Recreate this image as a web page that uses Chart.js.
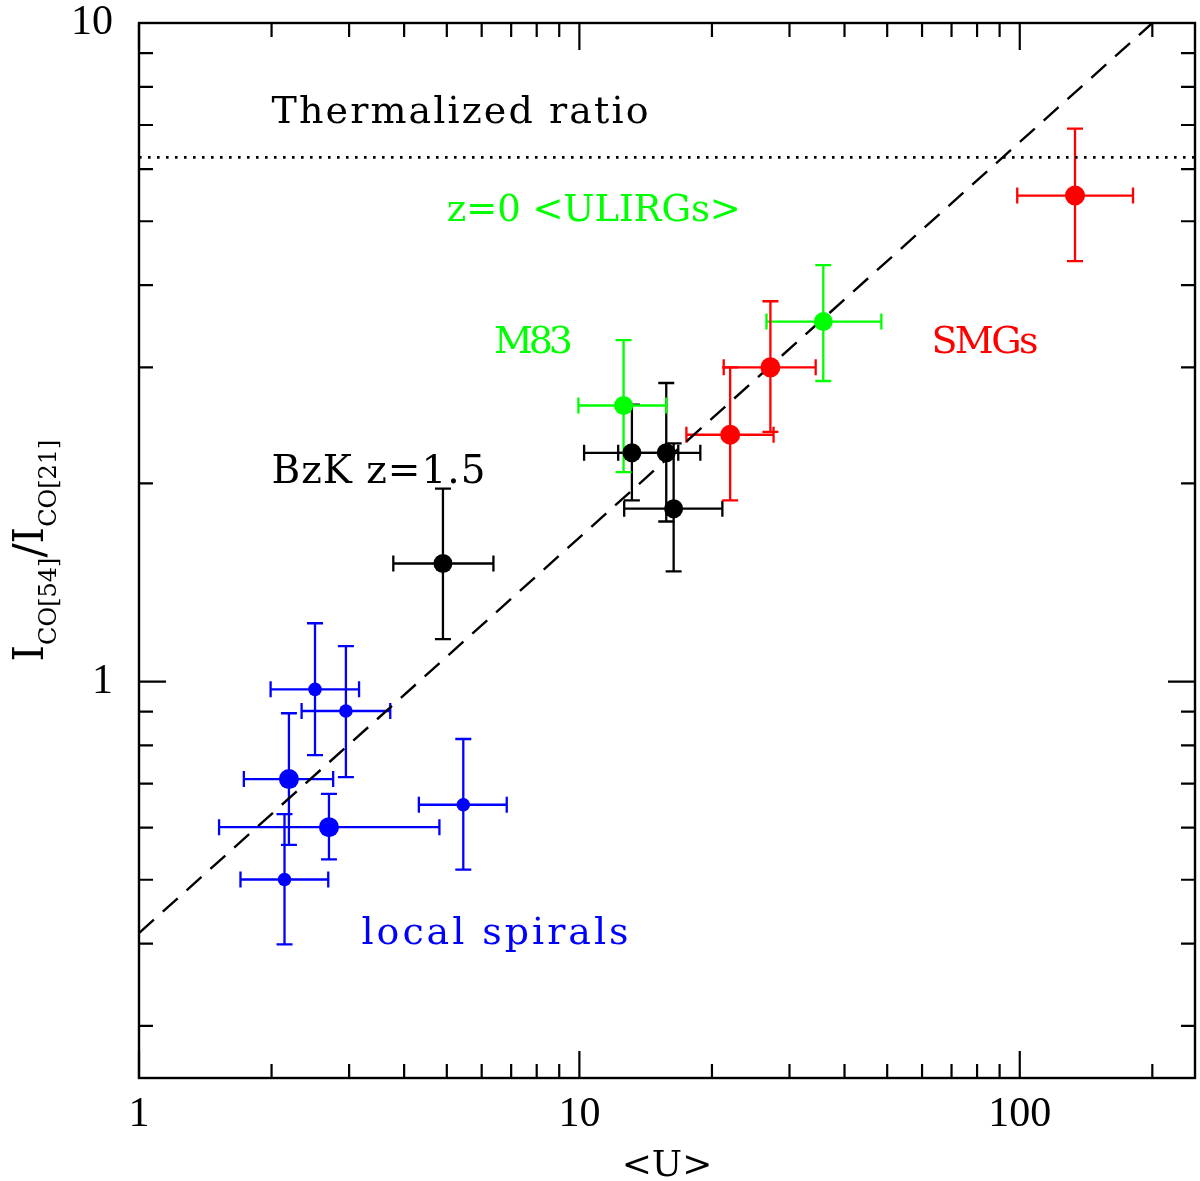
<!DOCTYPE html>
<html>
<head>
<meta charset="utf-8">
<script src="https://cdn.jsdelivr.net/npm/chart.js@4.4.1/dist/chart.umd.min.js"></script>
<style>
html,body{margin:0;padding:0;background:#ffffff;overflow:hidden;}
#wrap{width:1200px;height:1181px;position:relative;}
#c{display:block;}
</style>
</head>
<body>
<div id="wrap"><canvas id="c"></canvas></div>
<script>
// ---------------- data ----------------
// local spirals (blue)
const spiralX   = [2.51, 2.95, 2.19, 2.70, 5.45, 2.14];
const spiralY   = [0.973, 0.902, 0.711, 0.601, 0.650, 0.5005];
const spiralXLo = [1.99, 2.34, 1.73, 1.52, 4.32, 1.70];
const spiralXHi = [3.16, 3.72, 2.76, 4.81, 6.84, 2.69];
const spiralYLo = [0.773, 0.716, 0.565, 0.537, 0.518, 0.399];
const spiralYHi = [1.226, 1.132, 0.895, 0.675, 0.818, 0.629];
const spiralBig = [false, false, true, true, false, false];

// BzK z=1.5 (black)
const bzkX   = [4.90, 13.16, 15.75, 16.37];
const bzkY   = [1.511, 2.225, 2.225, 1.83];
const bzkXLo = [3.78, 10.25, 12.25, 12.64];
const bzkXHi = [6.38, 16.77, 18.82, 21.12];
const bzkYLo = [1.16, 1.884, 1.75, 1.47];
const bzkYHi = [1.963, 2.632, 2.84, 2.30];

// M83 and z=0 <ULIRGs> (green)
const greenX   = [12.6, 35.8];
const greenY   = [2.625, 3.52];
const greenXLo = [9.95, 26.6];
const greenXHi = [15.75, 48.5];
const greenYLo = [2.08, 2.86];
const greenYHi = [3.30, 4.29];

// SMGs (red)
const smgX   = [22.0, 27.15, 133.5];
const smgY   = [2.37, 3.00, 5.47];
const smgXLo = [17.5, 21.27, 98.7];
const smgXHi = [27.6, 34.4, 180.8];
const smgYLo = [1.884, 2.394, 4.35];
const smgYHi = [3.00, 3.78, 6.91];

// thermalized ratio (dotted) and fitted relation (dashed)
const thermX = [1, 250];
const thermY = [6.25, 6.25];
const fitX = [1, 200];
const fitY = [0.415, 10];

// axes
const xRange = [1, 250];
const yRange = [0.25, 10];
const xMajorTicks = [1, 10, 100];
const xMinorTicks = [2,3,4,5,6,7,8,9,20,30,40,50,60,70,80,90,200];
const yMajorTicks = [1, 10];
const yMinorTicks = [0.3,0.4,0.5,0.6,0.7,0.8,0.9,2,3,4,5,6,7,8,9];

// annotation texts and their anchor (data coordinates: left edge, baseline)
const annTexts = ['Thermalized ratio', 'z=0 <ULIRGs>', 'M83', 'SMGs', 'BzK z=1.5', 'local spirals'];
const annX = [2.0, 5.0, 6.4, 63, 2.0, 3.2];
const annY = [7.05, 5.0, 3.15, 3.15, 2.0, 0.40];

// ---------------- styles ----------------
const COL = {blue:'#0000ff', black:'#000000', green:'#00ff00', red:'#ff0000'};
const annStyle = [
  {color:COL.black, size:38, width:377},
  {color:COL.green, size:37, width:294},
  {color:COL.green, size:38, width:79},
  {color:COL.red,   size:38, width:107},
  {color:COL.black, size:39, width:214},
  {color:COL.blue,  size:38, width:267}
];
const SERIF = '"DejaVu Serif", "Liberation Serif", serif';
const TICKFONT = '"Liberation Serif", "DejaVu Serif", serif';

function pts(xs, ys){ return xs.map((v,i)=>({x:v, y:ys[i]})); }

const datasets = [
  {label:'local spirals', data:pts(spiralX, spiralY), backgroundColor:COL.blue, borderColor:COL.blue,
   pointRadius: spiralBig.map(b=> b ? 10 : 6.8), pointBorderWidth:0,
   err:{xLo:spiralXLo, xHi:spiralXHi, yLo:spiralYLo, yHi:spiralYHi}},
  {label:'BzK z=1.5', data:pts(bzkX, bzkY), backgroundColor:COL.black, borderColor:COL.black,
   pointRadius:9.5, pointBorderWidth:0,
   err:{xLo:bzkXLo, xHi:bzkXHi, yLo:bzkYLo, yHi:bzkYHi}},
  {label:'ULIRGs / M83', data:pts(greenX, greenY), backgroundColor:COL.green, borderColor:COL.green,
   pointRadius:9.5, pointBorderWidth:0,
   err:{xLo:greenXLo, xHi:greenXHi, yLo:greenYLo, yHi:greenYHi}},
  {label:'SMGs', data:pts(smgX, smgY), backgroundColor:COL.red, borderColor:COL.red,
   pointRadius:10, pointBorderWidth:0,
   err:{xLo:smgXLo, xHi:smgXHi, yLo:smgYLo, yHi:smgYHi}},
  {label:'Thermalized ratio', data:pts(thermX, thermY), showLine:true, pointRadius:0,
   borderColor:'#000', borderWidth:2.6, borderDash:[2.6,6.4], fill:false},
  {label:'fit', data:pts(fitX, fitY), showLine:true, pointRadius:0,
   borderColor:'#000', borderWidth:2.4, borderDash:[20,12], fill:false}
];

const errorBars = {
  id:'errorBars',
  beforeDatasetsDraw(chart){
    const ctx = chart.ctx, xs = chart.scales.x, ys = chart.scales.y, a = chart.chartArea;
    const cap = 8;
    ctx.save();
    ctx.beginPath(); ctx.rect(a.left, a.top, a.right-a.left, a.bottom-a.top); ctx.clip();
    chart.data.datasets.forEach(ds=>{
      if(!ds.err) return;
      ctx.strokeStyle = ds.borderColor; ctx.lineWidth = 2.3; ctx.lineCap='butt';
      ds.data.forEach((p,i)=>{
        const px = xs.getPixelForValue(p.x), py = ys.getPixelForValue(p.y);
        const x0 = xs.getPixelForValue(ds.err.xLo[i]), x1 = xs.getPixelForValue(ds.err.xHi[i]);
        const y0 = ys.getPixelForValue(ds.err.yLo[i]), y1 = ys.getPixelForValue(ds.err.yHi[i]);
        ctx.beginPath();
        ctx.moveTo(x0, py); ctx.lineTo(x1, py);
        ctx.moveTo(x0, py-cap); ctx.lineTo(x0, py+cap);
        ctx.moveTo(x1, py-cap); ctx.lineTo(x1, py+cap);
        ctx.moveTo(px, y0); ctx.lineTo(px, y1);
        ctx.moveTo(px-cap, y0); ctx.lineTo(px+cap, y0);
        ctx.moveTo(px-cap, y1); ctx.lineTo(px+cap, y1);
        ctx.stroke();
      });
    });
    ctx.restore();
  }
};

const frameAndText = {
  id:'frameAndText',
  afterDraw(chart){
    const ctx = chart.ctx, xs = chart.scales.x, ys = chart.scales.y, a = chart.chartArea;
    ctx.save();
    // frame
    ctx.strokeStyle = '#000'; ctx.lineWidth = 2.4;
    ctx.strokeRect(a.left, a.top, a.right-a.left, a.bottom-a.top);
    ctx.lineWidth = 2.2;
    const MAJ = 27, MIN = 14;
    ctx.beginPath();
    const xt = (v,L)=>{ const p = xs.getPixelForValue(v);
      ctx.moveTo(p, a.bottom); ctx.lineTo(p, a.bottom-L);
      ctx.moveTo(p, a.top); ctx.lineTo(p, a.top+L); };
    const yt = (v,L)=>{ const p = ys.getPixelForValue(v);
      ctx.moveTo(a.left, p); ctx.lineTo(a.left+L, p);
      ctx.moveTo(a.right, p); ctx.lineTo(a.right-L, p); };
    xMajorTicks.forEach(v=>xt(v,MAJ)); xMinorTicks.forEach(v=>xt(v,MIN));
    yMajorTicks.forEach(v=>yt(v,MAJ)); yMinorTicks.forEach(v=>yt(v,MIN));
    ctx.stroke();

    // annotations
    ctx.textAlign = 'left'; ctx.textBaseline = 'alphabetic';
    annTexts.forEach((t,i)=>{
      const st = annStyle[i];
      ctx.font = st.size + 'px ' + SERIF;
      ctx.letterSpacing = '0px';
      const w0 = ctx.measureText(t).width;
      const sp = (st.width - w0) / (t.length - 1);
      ctx.letterSpacing = sp.toFixed(2) + 'px';
      ctx.fillStyle = st.color;
      ctx.fillText(t, xs.getPixelForValue(annX[i]), ys.getPixelForValue(annY[i]));
    });
    ctx.letterSpacing = '0px';

    // x title
    ctx.fillStyle = '#000';
    ctx.font = '36px ' + SERIF;
    ctx.textAlign = 'center';
    ctx.fillText('<U>', (a.left+a.right)/2, 1176);

    // y title with subscripts
    const parts = [
      {t:'I', f:'42px ' + SERIF, dy:0},
      {t:'CO[54]', f:'24px ' + SERIF, dy:13},
      {t:'/', f:'42px ' + SERIF, dy:0},
      {t:'I', f:'42px ' + SERIF, dy:0},
      {t:'CO[21]', f:'24px ' + SERIF, dy:13}
    ];
    let total = 0;
    parts.forEach(p=>{ ctx.font = p.f; p.w = ctx.measureText(p.t).width; total += p.w; });
    ctx.translate(43, (a.top+a.bottom)/2);
    ctx.rotate(-Math.PI/2);
    ctx.textAlign = 'left';
    let u = -total/2;
    parts.forEach(p=>{ ctx.font = p.f; ctx.fillText(p.t, u, p.dy); u += p.w; });
    ctx.restore();
  }
};

const chart = new Chart(document.getElementById('c'), {
  type:'scatter',
  data:{datasets},
  options:{
    responsive:true, maintainAspectRatio:false, animation:false,
    layout:{autoPadding:false, padding:{top:23, right:5, left:0, bottom:0}},
    plugins:{legend:{display:false}, tooltip:{enabled:false}},
    scales:{
      x:{type:'logarithmic', position:'bottom', min:xRange[0], max:xRange[1],
         grid:{display:false, drawTicks:false}, border:{display:false},
         afterBuildTicks(s){ s.ticks = xMajorTicks.map(v=>({value:v, major:true})); },
         afterFit(s){ s.height = 103; s.paddingLeft = 0; s.paddingRight = 0; s.paddingTop = 0; s.paddingBottom = 0; },
         ticks:{autoSkip:false, maxRotation:0, padding:12, color:'#000',
                font:{family:TICKFONT, size:42}, callback:(v)=>String(v)}},
      y:{type:'logarithmic', position:'left', min:yRange[0], max:yRange[1],
         grid:{display:false, drawTicks:false}, border:{display:false},
         afterBuildTicks(s){ s.ticks = yMajorTicks.map(v=>({value:v, major:true})); },
         afterFit(s){ s.width = 139; s.paddingLeft = 0; s.paddingRight = 0; s.paddingTop = 0; s.paddingBottom = 0; },
         ticks:{autoSkip:false, padding:26, color:'#000',
                font:{family:TICKFONT, size:42}, callback:(v)=>String(v)}}
    }
  },
  plugins:[errorBars, frameAndText]
});
</script>
</body>
</html>
